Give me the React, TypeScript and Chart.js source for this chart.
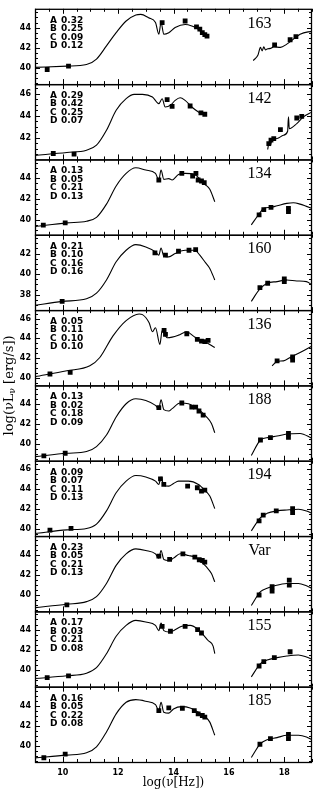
import React, { useEffect, useRef } from 'react';
import { Chart, registerables } from 'chart.js';
Chart.register(...registerables);

type P = [number, number];

// Panel identifiers and component fractions
const panelNames = ['163', '142', '134', '160', '136', '188', '194', 'Var', '155', '185'];
const fracA = ['0.32', '0.29', '0.13', '0.21', '0.05', '0.13', '0.09', '0.23', '0.17', '0.16'];
const fracB = ['0.25', '0.42', '0.05', '0.10', '0.11', '0.02', '0.07', '0.05', '0.03', '0.05'];
const fracC = ['0.09', '0.25', '0.21', '0.16', '0.10', '0.18', '0.11', '0.21', '0.21', '0.22'];
const fracD = ['0.12', '0.07', '0.13', '0.16', '0.10', '0.09', '0.13', '0.13', '0.08', '0.08'];

// y-range per panel
const yMin = [38.43, 40.05, 38.53, 36.52, 39.25, 38.37, 39.31, 38.37, 38.38, 38.4];
const yMax = [45.85, 46.87, 45.83, 43.82, 46.86, 45.85, 46.83, 45.87, 45.8, 45.88];

// x axis
const xMin = 9;
const xMax = 19;
const xTickLabels = [10, 12, 14, 16, 18];

// ---- 163 ----
const ir163: P[] = [[9.0,40.08],[10.15,40.2],[10.86,40.36],[11.22,40.9],[11.58,42.2],[11.93,43.5],[12.29,44.65],[12.64,45.24],[12.82,45.3],[13.1,44.97],[13.35,44.5],[13.47,43.35],[13.55,44.5],[13.65,43.35],[13.83,43.5],[14.06,44.0],[14.42,44.3],[14.66,44.16],[14.9,43.84],[15.07,43.35],[15.25,43.1]];
const xr163: P[] = [[16.88,40.75],[17.05,41.3],[17.14,42.05],[17.2,41.7],[17.26,42.1],[17.32,41.8],[17.38,41.9],[17.5,41.95],[17.62,42.1],[17.86,42.05],[18.09,42.37],[18.33,42.86],[18.57,43.35],[18.86,43.58],[19.0,43.6]];
const pts163: P[] = [[9.44,39.87],[10.21,40.2],[13.59,44.49],[14.42,44.65],[14.83,44.07],[14.95,43.84],[15.04,43.5],[15.13,43.3],[15.21,43.15],[17.65,42.3],[18.21,42.8],[18.42,43.1]];
// ---- 142 ----
const ir142: P[] = [[9.0,40.42],[10.15,40.68],[10.86,40.89],[11.22,41.34],[11.58,42.69],[11.93,44.5],[12.29,45.55],[12.58,45.94],[12.88,45.94],[13.24,45.7],[13.47,45.1],[13.59,45.55],[13.7,44.8],[13.89,44.95],[14.06,45.4],[14.24,45.64],[14.42,45.4],[14.66,44.8],[14.9,44.35],[15.13,44.05]];
const xr142: P[] = [[17.4,40.95],[17.45,41.6],[17.5,41.3],[17.55,41.8],[17.74,41.94],[17.97,42.24],[18.12,42.6],[18.15,43.9],[18.18,42.84],[18.45,43.3],[18.69,43.9],[19.0,44.35]];
const pts142: P[] = [[9.66,40.59],[10.41,40.53],[13.77,45.46],[13.95,44.86],[14.6,44.89],[14.99,44.26],[15.13,44.14],[17.44,41.49],[17.52,41.8],[17.62,41.94],[17.86,42.75],[18.45,43.8],[18.63,43.95]];
// ---- 134 ----
const ir134: P[] = [[9.0,39.32],[10.15,39.68],[10.86,39.84],[11.22,40.22],[11.58,41.5],[11.93,43.26],[12.29,44.48],[12.64,45.02],[13.0,44.8],[13.35,44.48],[13.47,43.84],[13.55,44.8],[13.65,43.9],[13.83,43.97],[13.95,43.84],[14.18,44.38],[14.42,44.48],[14.77,44.38],[14.95,43.9],[15.13,43.42],[15.31,42.94],[15.49,41.73]];
const xr134: P[] = [[16.81,39.49],[17.09,40.54],[17.26,41.09],[17.5,41.18],[17.74,41.34],[18.09,41.57],[18.33,41.63],[18.57,41.5],[18.8,41.28],[19.0,41.09]];
const pts134: P[] = [[9.3,39.46],[10.09,39.68],[13.47,43.84],[14.3,44.48],[14.69,44.22],[14.81,44.48],[14.89,43.84],[15.01,43.74],[15.11,43.58],[17.09,40.45],[17.26,40.96],[17.52,41.18],[18.15,41.09],[18.15,40.77]];
// ---- 160 ----
const ir160: P[] = [[9.0,36.98],[9.98,37.36],[10.86,37.62],[11.22,38.16],[11.58,39.44],[11.93,41.2],[12.29,42.32],[12.64,42.86],[13.0,42.64],[13.35,42.16],[13.47,41.84],[13.55,42.54],[13.65,41.74],[13.83,41.68],[14.06,42.0],[14.42,42.32],[14.77,42.32],[14.95,41.84],[15.13,41.2],[15.31,40.56],[15.49,39.44]];
const xr160: P[] = [[16.81,37.36],[17.09,38.48],[17.38,39.12],[17.74,39.28],[18.09,39.44],[18.45,39.34],[18.8,39.28],[19.0,38.96]];
const pts160: P[] = [[9.98,37.36],[13.33,42.06],[13.71,41.84],[14.18,42.22],[14.56,42.32],[14.8,42.38],[17.12,38.7],[17.4,39.12],[18.0,39.54],[18.0,39.28]];
// ---- 136 ----
const ir136: P[] = [[9.0,40.12],[10.15,40.73],[10.98,41.23],[11.34,42.07],[11.81,44.23],[12.29,45.8],[12.76,46.47],[12.88,46.4],[13.12,45.57],[13.24,44.67],[13.35,45.07],[13.51,43.4],[13.59,44.8],[13.77,44.07],[13.95,44.13],[14.18,44.33],[14.48,44.67],[14.72,44.23],[14.9,43.9],[15.13,43.67],[15.49,43.07]];
const xr136: P[] = [[17.56,41.23],[17.74,41.67],[17.97,41.73],[18.21,42.07],[18.57,42.57],[19.0,43.23]];
const pts136: P[] = [[9.54,40.4],[10.27,40.57],[13.66,44.8],[13.71,44.4],[14.48,44.47],[14.86,43.9],[15.01,43.73],[15.13,43.67],[15.25,43.8],[17.74,41.73],[18.3,42.13],[18.3,41.8]];
// ---- 188 ----
const ir188: P[] = [[9.0,38.78],[10.15,39.11],[10.86,39.28],[11.22,39.77],[11.58,40.92],[11.93,42.72],[12.29,44.03],[12.64,44.52],[13.0,44.36],[13.35,43.87],[13.47,43.54],[13.55,44.43],[13.65,43.44],[13.83,43.31],[13.95,43.54],[14.24,44.1],[14.54,44.03],[14.77,43.7],[15.01,43.21],[15.19,42.72],[15.37,42.07],[15.49,41.15]];
const xr188: P[] = [[16.81,38.89],[17.14,40.43],[17.44,40.69],[17.74,40.82],[18.09,41.02],[18.57,41.08],[19.0,40.59]];
const pts188: P[] = [[9.32,38.85],[10.09,39.11],[13.47,43.64],[14.3,44.1],[14.66,43.7],[14.8,43.7],[14.92,43.31],[15.07,42.89],[17.14,40.43],[17.5,40.66],[18.15,41.08],[18.15,40.69]];
// ---- 194 ----
const ir194: P[] = [[9.0,39.56],[10.15,39.93],[10.86,40.07],[11.22,40.5],[11.58,41.82],[11.93,43.63],[12.29,44.79],[12.64,45.35],[13.0,45.21],[13.35,44.79],[13.47,44.46],[13.55,45.21],[13.65,44.36],[13.83,44.29],[14.0,44.55],[14.18,44.79],[14.54,44.79],[14.9,44.46],[15.13,43.89],[15.31,43.3],[15.49,42.05]];
const xr194: P[] = [[16.81,39.83],[17.14,41.16],[17.38,41.58],[17.74,41.82],[18.09,41.91],[18.51,41.98],[18.8,41.82],[19.0,41.58]];
const pts194: P[] = [[9.54,39.9],[10.3,40.07],[13.53,45.02],[13.65,44.46],[14.51,44.29],[14.86,44.13],[15.01,43.8],[15.13,43.89],[17.09,40.83],[17.24,41.39],[17.71,41.82],[18.3,42.05],[18.3,41.65]];
// ---- Var ----
const irVar: P[] = [[9.0,38.74],[10.15,39.08],[10.86,39.34],[11.22,39.84],[11.58,41.15],[11.93,42.95],[12.29,44.1],[12.64,44.59],[13.0,44.43],[13.35,44.1],[13.47,43.67],[13.55,44.43],[13.65,43.54],[13.83,43.44],[14.0,43.67],[14.24,44.1],[14.54,43.93],[14.77,43.77],[15.01,43.28],[15.19,42.79],[15.37,42.13],[15.49,41.31]];
const xrVar: P[] = [[16.81,38.95],[17.14,40.33],[17.38,40.66],[17.62,40.89],[18.09,41.15],[18.51,41.15],[18.8,40.92],[19.0,40.66]];
const ptsVar: P[] = [[10.15,39.02],[13.47,43.87],[13.86,43.54],[14.34,44.1],[14.77,43.77],[14.93,43.51],[15.04,43.44],[15.13,43.28],[17.09,40.0],[17.56,40.82],[17.56,40.39],[18.18,41.48],[18.18,40.98]];
// ---- 155 ----
const ir155: P[] = [[9.0,39.18],[10.15,39.45],[10.86,39.71],[11.22,40.26],[11.58,41.63],[11.93,43.35],[12.29,44.42],[12.64,44.91],[13.0,44.75],[13.35,44.42],[13.47,43.9],[13.55,44.65],[13.65,43.9],[13.83,43.77],[14.0,43.9],[14.3,44.33],[14.6,44.42],[14.9,44.0],[15.07,43.51],[15.25,42.93],[15.43,42.37],[15.49,41.63]];
const xr155: P[] = [[16.81,39.35],[17.14,40.65],[17.38,41.01],[17.74,41.24],[18.09,41.4],[18.51,41.5],[18.8,41.3],[19.0,41.07]];
const pts155: P[] = [[9.44,39.28],[10.21,39.45],[13.59,44.33],[13.89,43.84],[14.42,44.33],[14.87,44.0],[15.01,43.67],[17.09,40.42],[17.26,40.85],[17.64,41.24],[18.21,41.82]];
// ---- 185 ----
const ir185: P[] = [[9.0,38.81],[10.15,39.08],[10.86,39.31],[11.22,39.9],[11.58,41.38],[11.93,43.18],[12.29,44.33],[12.64,44.59],[13.0,44.43],[13.35,44.1],[13.47,43.51],[13.55,44.33],[13.65,43.34],[13.83,43.25],[14.0,43.67],[14.3,43.9],[14.6,43.77],[14.9,43.34],[15.13,42.92],[15.31,42.36],[15.49,41.05]];
const xr185: P[] = [[16.81,38.85],[17.14,40.23],[17.38,40.62],[17.74,40.82],[18.09,41.05],[18.51,41.05],[18.8,40.89],[19.0,40.62]];
const pts185: P[] = [[9.32,38.82],[10.09,39.18],[13.47,43.51],[13.83,43.77],[14.32,43.74],[14.75,43.51],[14.89,43.18],[15.04,43.02],[15.13,42.85],[17.12,40.16],[17.5,40.72],[18.15,41.15],[18.15,40.72]];

const irCurves = [ir163, ir142, ir134, ir160, ir136, ir188, ir194, irVar, ir155, ir185];
const xrCurves = [xr163, xr142, xr134, xr160, xr136, xr188, xr194, xrVar, xr155, xr185];
const obsPoints = [pts163, pts142, pts134, pts160, pts136, pts188, pts194, ptsVar, pts155, pts185];

const W = 316;
const H = 791;
const tickFont = { family: 'DejaVu Sans', weight: 'bold' as const, size: 8 };

export default function App() {
  const ref = useRef<HTMLCanvasElement>(null);
  useEffect(() => {
    if (!ref.current) return;
    const datasets: any[] = [];
    const scales: any = {
      x: {
        type: 'linear',
        position: 'bottom',
        min: xMin,
        max: xMax,
        afterBuildTicks: (s: any) => { s.ticks = xTickLabels.map((v) => ({ value: v })); },
        ticks: { font: tickFont, color: '#000', padding: 6, maxRotation: 0, autoSkip: false },
        grid: { display: false, drawTicks: false },
        border: { display: false },
        title: {
          display: true,
          text: 'log(ν[Hz])',
          color: '#000',
          font: { family: 'DejaVu Serif', size: 12 },
          padding: { top: 0, bottom: 1 },
        },
        afterFit: (s: any) => { s.height = 29; },
      },
    };
    for (let i = 0; i < panelNames.length; i++) {
      const id = 'y' + i;
      scales[id] = {
        type: 'linear',
        position: 'left',
        stack: 'sed',
        stackWeight: 1,
        weight: 20 - i,
        min: yMin[i],
        max: yMax[i],
        ticks: { stepSize: 2, includeBounds: false, font: tickFont, color: '#000', padding: 4 },
        grid: { display: false, drawTicks: false },
        border: { display: false },
        afterFit: (s: any) => { s.width = 35; },
      };
      const lineData: any[] = irCurves[i].map(([x, y]) => ({ x, y }));
      lineData.push({ x: 16.2, y: null });
      xrCurves[i].forEach(([x, y]) => lineData.push({ x, y }));
      datasets.push({
        type: 'line',
        xAxisID: 'x',
        yAxisID: id,
        data: lineData,
        borderColor: '#000',
        borderWidth: 1.1,
        pointRadius: 0,
        cubicInterpolationMode: 'monotone',
        spanGaps: false,
        fill: false,
      });
      datasets.push({
        type: 'line',
        xAxisID: 'x',
        yAxisID: id,
        data: obsPoints[i].map(([x, y]) => ({ x, y })),
        showLine: false,
        pointStyle: 'rect',
        pointRadius: 3.4,
        backgroundColor: '#000',
        borderColor: '#000',
        borderWidth: 0,
      });
    }

    const framePlugin = {
      id: 'frames',
      afterDraw(chart: any) {
        const ctx = chart.ctx as CanvasRenderingContext2D;
        const ca = chart.chartArea;
        const xs = chart.scales.x;
        ctx.save();
        ctx.strokeStyle = '#000';
        ctx.fillStyle = '#000';
        for (let i = 0; i < panelNames.length; i++) {
          const ys = chart.scales['y' + i];
          const top = ys.top;
          const bottom = ys.bottom;
          ctx.lineWidth = 1.3;
          ctx.strokeRect(ca.left + 0.5, top + 0.5, ca.right - ca.left - 1, bottom - top);
          ctx.lineWidth = 1;
          ctx.beginPath();
          for (let k = 0; k <= (xMax - xMin) * 2; k++) {
            const v = xMin + k * 0.5;
            const px = Math.round(xs.getPixelForValue(v)) + 0.5;
            const L = v % 2 === 0 ? 5 : 3;
            ctx.moveTo(px, top);
            ctx.lineTo(px, top + L);
            ctx.moveTo(px, bottom);
            ctx.lineTo(px, bottom - L);
          }
          const start = Math.ceil(ys.min * 2) / 2;
          for (let v = start; v <= ys.max; v += 0.5) {
            const py = Math.round(ys.getPixelForValue(v)) + 0.5;
            const L = v % 2 === 0 ? 5 : 3;
            ctx.moveTo(ca.left, py);
            ctx.lineTo(ca.left + L, py);
            ctx.moveTo(ca.right, py);
            ctx.lineTo(ca.right - L, py);
          }
          ctx.stroke();

          // component fractions
          ctx.font = 'bold 9px "DejaVu Sans"';
          ctx.textBaseline = 'middle';
          ctx.textAlign = 'left';
          const letters = ['A', 'B', 'C', 'D'];
          const vals = [fracA[i], fracB[i], fracC[i], fracD[i]];
          for (let r = 0; r < 4; r++) {
            const yy = top + 11.5 + r * 8.5;
            ctx.fillText(letters[r], 50, yy);
            ctx.fillText(vals[r], 61, yy);
          }
          // panel name
          ctx.font = '16px "Liberation Serif"';
          ctx.textAlign = 'center';
          ctx.fillText(panelNames[i], 259.5, top + 14.5);
        }
        // global y title
        ctx.save();
        ctx.translate(9.5, (ca.top + ca.bottom) / 2);
        ctx.rotate(-Math.PI / 2);
        const fMain = '13px "DejaVu Serif"';
        const fSub = '9px "DejaVu Serif"';
        const p1 = 'log(νL';
        const p2 = 'ν';
        const p3 = ' [erg/s])';
        ctx.font = fMain;
        const w1 = ctx.measureText(p1).width;
        const w3 = ctx.measureText(p3).width;
        ctx.font = fSub;
        const w2 = ctx.measureText(p2).width;
        const total = w1 + w2 + w3;
        let x0 = -total / 2;
        ctx.textAlign = 'left';
        ctx.textBaseline = 'middle';
        ctx.font = fMain;
        ctx.fillText(p1, x0, 0);
        x0 += w1;
        ctx.font = fSub;
        ctx.fillText(p2, x0, 3);
        x0 += w2;
        ctx.font = fMain;
        ctx.fillText(p3, x0, 0);
        ctx.restore();
        ctx.restore();
      },
    };

    const chart = new Chart(ref.current, {
      type: 'line',
      data: { datasets },
      options: {
        animation: false,
        responsive: false,
        devicePixelRatio: 1,
        layout: { padding: { top: 1, right: 1, bottom: 0, left: 0 } },
        plugins: { legend: { display: false }, tooltip: { enabled: false } },
        scales,
      } as any,
      plugins: [framePlugin],
    });
    return () => chart.destroy();
  }, []);

  return (
    <div style={{ position: 'absolute', left: 0, top: 0, width: W, height: H, background: '#fff' }}>
      <canvas ref={ref} width={W} height={H} style={{ display: 'block', width: W, height: H }} />
    </div>
  );
}
